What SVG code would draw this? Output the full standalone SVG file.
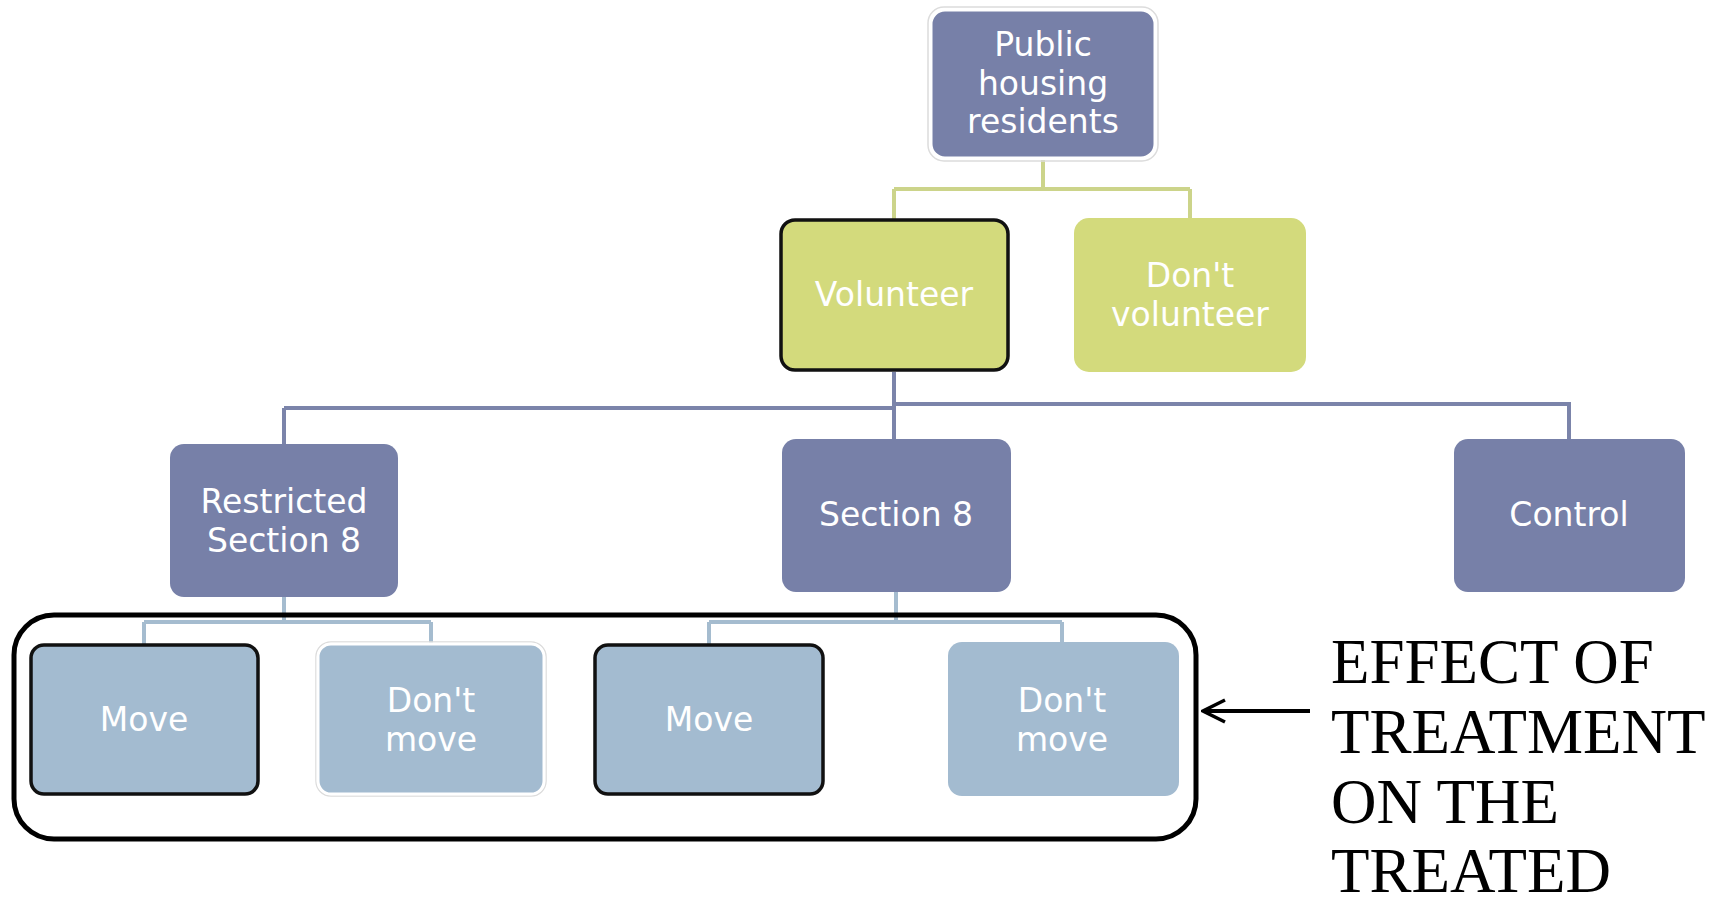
<svg xmlns="http://www.w3.org/2000/svg" width="1725" height="898" viewBox="0 0 1725 898">
<defs>
<style>
.nt{font-family:"DejaVu Sans","Liberation Sans",sans-serif;font-size:33px;fill:#ffffff;text-anchor:middle}
.slate{fill:#7780a8}
.lime{fill:#d3da7c}
.pale{fill:#a3bbd0}
.blk{stroke:#111111;stroke-width:3.5}
.wht{stroke:#ffffff;stroke-width:3}
.halo{fill:none;stroke:#dcdcdc;stroke-width:1.5}
.cl{fill:none;stroke:#ccd48a;stroke-width:4}
.cs{fill:none;stroke:#7b84aa;stroke-width:4}
.cp{fill:none;stroke:#a5bccf;stroke-width:4}
.big{font-family:"Liberation Serif","Times New Roman",serif;font-size:63px;fill:#000000}
</style>
<marker id="ah" viewBox="0 0 26 26" refX="24" refY="13" markerWidth="26" markerHeight="26" markerUnits="userSpaceOnUse" orient="auto">
<path d="M2,2 L24,13 L2,24" fill="none" stroke="#000" stroke-width="3.5"/>
</marker>
</defs>
<rect width="1725" height="898" fill="#ffffff"/>
<g id="connectors">
<path class="cl" d="M1043,160 V189 M894,189 H1190 M894,189 V220 M1190,189 V218"/>
<path class="cs" d="M894,372 V439 M284,408 H894 M284,408 V444 M894,404 H1569 V439"/>
<path class="cp" d="M284,597 V622 M144,622 H431 M144,622 V645 M431,622 V644"/>
<path class="cp" d="M896,592 V622 M709,622 H1062 M709,622 V645 M1062,622 V642"/>
</g>
<g id="n-public">
<rect class="halo" x="928" y="7" width="230" height="154" rx="16"/>
<rect class="slate wht" x="931" y="10" width="224" height="148" rx="14"/>
<text class="nt" x="1043" y="56">Public</text>
<text class="nt" x="1043" y="95">housing</text>
<text class="nt" x="1043" y="133">residents</text>
</g>
<g id="n-volunteer">
<rect class="lime blk" x="781" y="220" width="227" height="150" rx="14"/>
<text class="nt" x="894" y="306">Volunteer</text>
</g>
<g id="n-dontvolunteer">
<rect class="lime" x="1074" y="218" width="232" height="154" rx="15"/>
<text class="nt" x="1190" y="287">Don't</text>
<text class="nt" x="1190" y="326">volunteer</text>
</g>
<g id="n-restricted">
<rect class="slate" x="170" y="444" width="228" height="153" rx="14"/>
<text class="nt" x="284" y="513">Restricted</text>
<text class="nt" x="284" y="552">Section 8</text>
</g>
<g id="n-section8">
<rect class="slate" x="782" y="439" width="229" height="153" rx="14"/>
<text class="nt" x="896" y="526">Section 8</text>
</g>
<g id="n-control">
<rect class="slate" x="1454" y="439" width="231" height="153" rx="14"/>
<text class="nt" x="1569" y="526">Control</text>
</g>
<g id="frame">
<rect x="14" y="615" width="1182" height="224" rx="40" fill="none" stroke="#000000" stroke-width="5"/>
</g>
<g id="n-move1">
<rect class="pale blk" x="31" y="645" width="227" height="149" rx="13"/>
<text class="nt" x="144" y="731">Move</text>
</g>
<g id="n-dontmove1">
<rect class="halo" x="316" y="642" width="230" height="154" rx="15"/>
<rect class="pale wht" x="318" y="644" width="226" height="150" rx="13"/>
<text class="nt" x="431" y="712">Don't</text>
<text class="nt" x="431" y="751">move</text>
</g>
<g id="n-move2">
<rect class="pale blk" x="595" y="645" width="228" height="149" rx="13"/>
<text class="nt" x="709" y="731">Move</text>
</g>
<g id="n-dontmove2">
<rect class="pale" x="948" y="642" width="231" height="154" rx="14"/>
<text class="nt" x="1062" y="712">Don't</text>
<text class="nt" x="1062" y="751">move</text>
</g>
<g id="annotation">
<line x1="1310" y1="711" x2="1203" y2="711" stroke="#000" stroke-width="4" marker-end="url(#ah)"/>
<text class="big" x="1331" y="683">EFFECT OF</text>
<text class="big" x="1331" y="753">TREATMENT</text>
<text class="big" x="1331" y="823">ON THE</text>
<text class="big" x="1331" y="892">TREATED</text>
</g>
</svg>
